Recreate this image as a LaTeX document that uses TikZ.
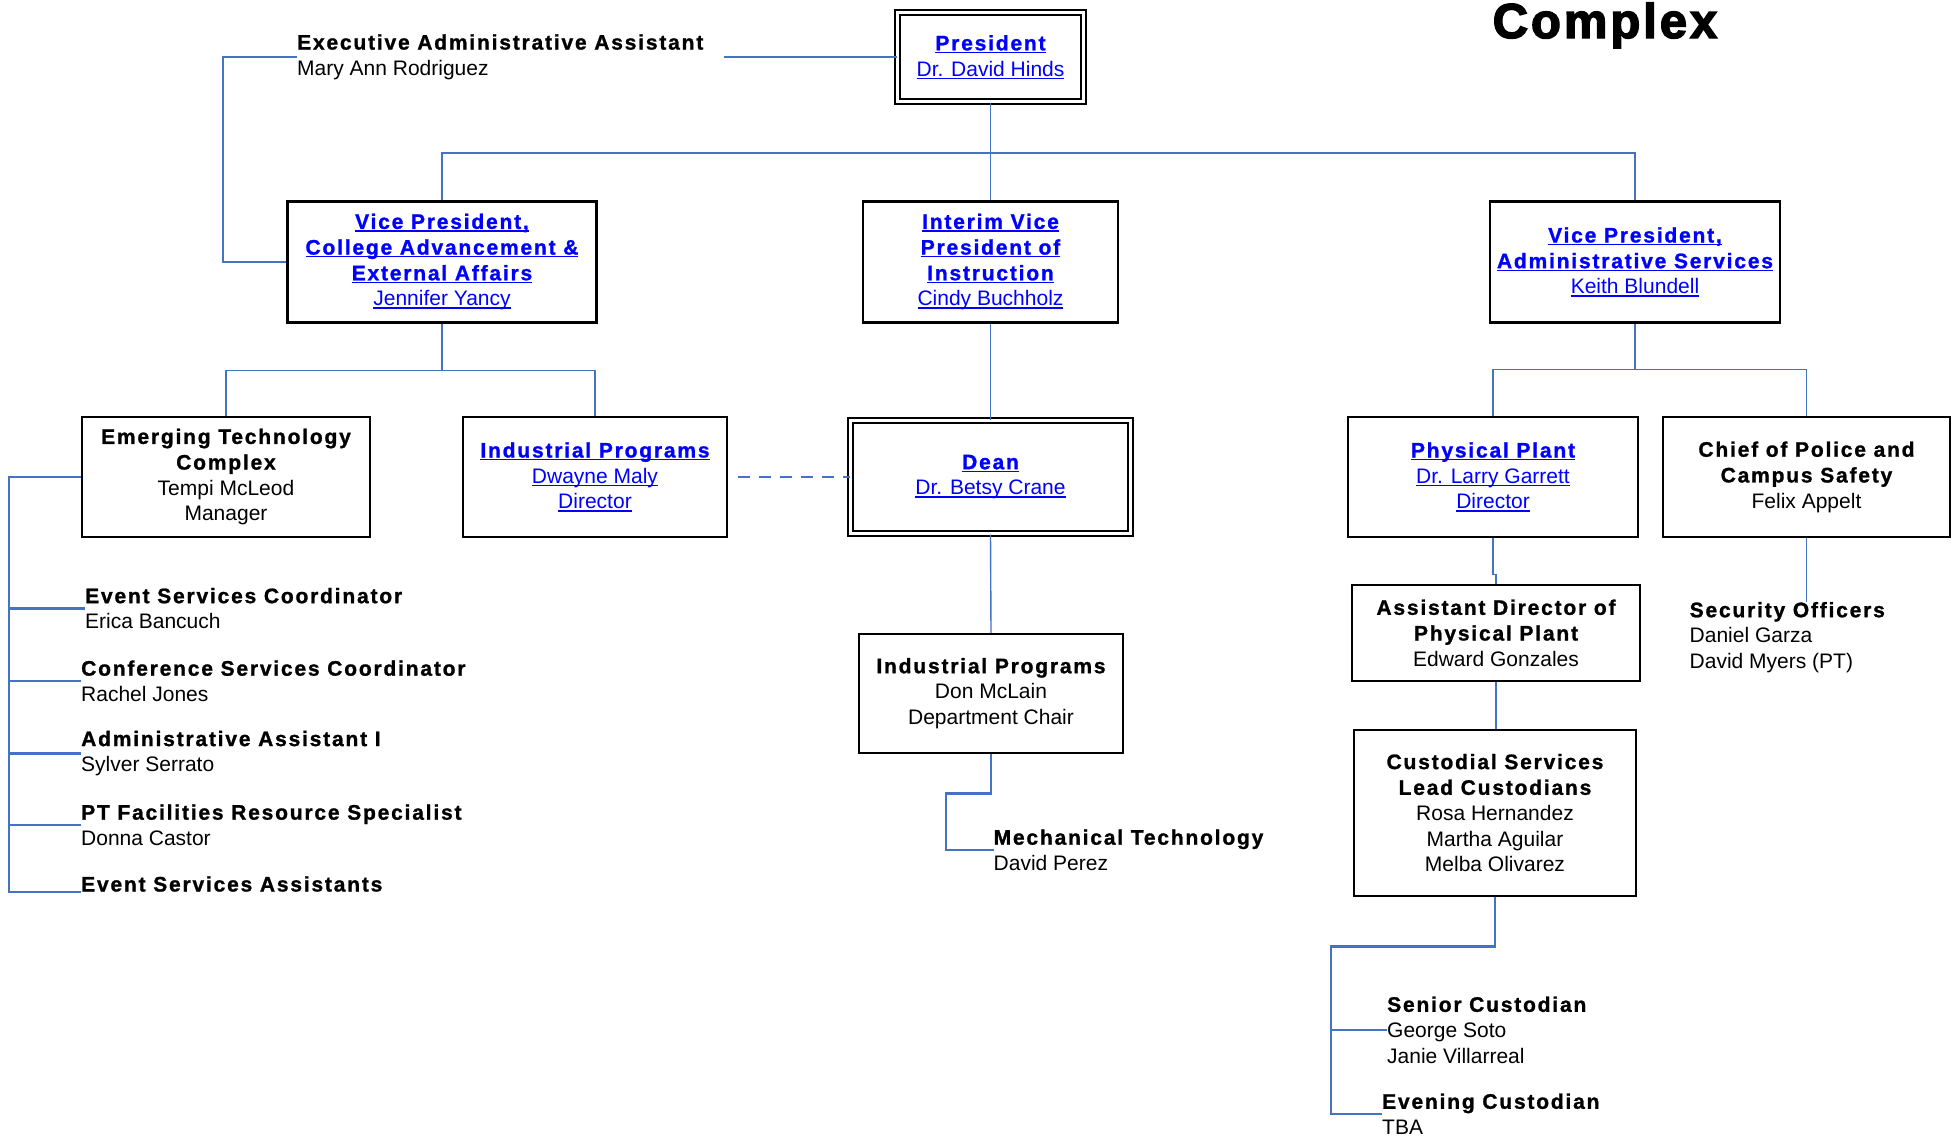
\documentclass[tikz,border=0pt]{standalone}
\usepackage{fontspec}
\setmainfont{Liberation Sans}
\newfontfamily\boldfam[LetterSpace=8.6,FakeBold=1.2]{Liberation Sans}
\newfontfamily\heavyfam[LetterSpace=6,FakeBold=3]{Liberation Sans}
\usepackage{tikz}
\usetikzlibrary{positioning}
\definecolor{linkblue}{RGB}{0,0,255}
\definecolor{wireblue}{RGB}{68,114,196}
\newcommand{\ttl}[1]{{\boldfam\bfseries #1}}
\newsavebox{\lnkbox}
\newcommand{\lnk}[1]{\sbox{\lnkbox}{#1}\rlap{\rule[-2.8pt]{\wd\lnkbox}{1.3pt}}\usebox{\lnkbox}}

\begin{document}
\begin{tikzpicture}[x=1pt, y=-1pt,
        every node/.style={font=\fontsize{21}{25.7}\selectfont},
        box/.style={draw, line width=2.4pt, align=center, inner sep=0pt},
        dbox/.style={draw, double, line width=2pt, double distance=2.6pt, align=center, inner sep=0pt},
        link/.style={text=linkblue},
        entry/.style={anchor=west, align=left, inner sep=0pt},
        wire/.style={wireblue, line width=1.4pt},
        fat/.style={wireblue, line width=2.6pt}]

        \useasboundingbox (0,0) rectangle (1952,1136);

        % title, cut at the top
        \node[anchor=base, font=\fontsize{49}{55}\selectfont] (cplx) at (1605,38) {{\heavyfam\bfseries Complex}};

        % boxes
        \node[dbox, link, minimum width=186pt, minimum height=89pt] (pres) at (990.5,57) {\lnk{\ttl{President}}\\\lnk{Dr. David Hinds}};
        \node[entry] (exec) at (297,57) {\ttl{Executive Administrative Assistant}\\Mary Ann Rodriguez};

        \node[box, link, minimum width=309pt, minimum height=121pt] (vpca) at (442,262) {\lnk{\ttl{Vice President,}}\\\lnk{\ttl{College Advancement \&}}\\\lnk{\ttl{External Affairs}}\\\lnk{Jennifer Yancy}};
        \node[box, link, minimum width=255pt, minimum height=121pt] (vpi) at (990.5,262) {\lnk{\ttl{Interim Vice}}\\\lnk{\ttl{President of}}\\\lnk{\ttl{Instruction}}\\\lnk{Cindy Buchholz}};
        \node[box, link, minimum width=290pt, minimum height=121pt] (vpas) at (1635,262) {\lnk{\ttl{Vice President,}}\\\lnk{\ttl{Administrative Services}}\\\lnk{Keith Blundell}};

        \node[box, minimum width=288pt, minimum height=120pt] (emt) at (226,477) {\ttl{Emerging Technology}\\\ttl{Complex}\\Tempi McLeod\\Manager};
        \node[box, link, minimum width=264pt, minimum height=120pt] (indp) at (595,477) {\lnk{\ttl{Industrial Programs}}\\\lnk{Dwayne Maly}\\\lnk{Director}};
        \node[dbox, link, minimum width=280pt, minimum height=113pt] (dean) at (990.5,477) {\lnk{\ttl{Dean}}\\\lnk{Dr. Betsy Crane}};
        \node[box, link, minimum width=290pt, minimum height=120pt] (pp) at (1493,477) {\lnk{\ttl{Physical Plant}}\\\lnk{Dr. Larry Garrett}\\\lnk{Director}};
        \node[box, minimum width=287pt, minimum height=120pt] (chief) at (1806.5,477) {\ttl{Chief of Police and}\\\ttl{Campus Safety}\\Felix Appelt};

        \node[box, minimum width=264pt, minimum height=119pt] (indc) at (991,693.5) {\ttl{Industrial Programs}\\Don McLain\\Department Chair};
        \node[box, minimum width=288pt, minimum height=96pt] (adpp) at (1496,633) {\ttl{Assistant Director of}\\\ttl{Physical Plant}\\Edward Gonzales};
        \node[box, minimum width=282pt, minimum height=166pt] (cust) at (1495,813) {\ttl{Custodial Services}\\\ttl{Lead Custodians}\\Rosa Hernandez\\Martha Aguilar\\Melba Olivarez};

        % staff without boxes
        \node[entry] (esc) at (85,608.5) {\ttl{Event Services Coordinator}\\Erica Bancuch};
        \node[entry] (csc) at (81,681) {\ttl{Conference Services Coordinator}\\Rachel Jones};
        \node[entry] (aa) at (81,753.5) {\ttl{Administrative Assistant I}\\Sylver Serrato};
        \node[entry] (ptf) at (81,825) {\ttl{PT Facilities Resource Specialist}\\Donna Castor};
        \node[entry] (esa) at (81,884) {\ttl{Event Services Assistants}};
        \node[entry] (mech) at (993.5,850) {\ttl{Mechanical Technology}\\David Perez};
        \node[entry] (sec) at (1689.5,637.5) {\ttl{Security Officers}\\Daniel Garza\\David Myers (PT)};
        \node[entry] (senc) at (1387,1030) {\ttl{Senior Custodian}\\George Soto\\Janie Villarreal};
        \node[entry] (evec) at (1382,1114) {\ttl{Evening Custodian}\\TBA};

        % lines
        \draw[fat, shorten <=20pt] (exec.east) -- (pres.west);
        \draw[fat] (exec.west) -- ++(-74,0) |- (vpca.west);
        \draw[wire] (pres.south) -- (vpi.north);
        \draw[wire] (vpca.north) |- ++(548.5,-47.5) -| (vpas.north);
        \draw[wire] (vpca.south) -- ++(0,47) -| (emt.north);
        \draw[wire] (vpca.south) -- ++(0,47) -| (indp.north);
        \draw[wire] (vpas.south) -- ++(0,45.5) -| (pp.north);
        \draw[wire] (vpas.south) -- ++(0,45.5) -| (chief.north);
        \draw[wire] (vpi.south) -- (dean.north);
        \draw[wire] (dean.south) -- (indc.north);
        \draw[wireblue, line width=2pt, dash pattern=on 12pt off 9pt, shorten <=10pt] (indp.east) -- (dean.west);

        \foreach \e in {esc,csc,aa,ptf}
            \draw[fat] (emt.west) -- ++(-72,0) |- (\e.west);
        \draw[fat] (emt.west) -- ++(-72,0) |- (esa.south west);

        \draw[fat] (indc.south) |- ++(-45,39) |- (mech.west);

        \draw[wire] (pp.south) -- ++(0,36) -| (adpp.north);
        \draw[wire] (adpp.south) -- (adpp.south |- cust.north);
        \draw[fat] (cust.south) |- ++(-164,49) |- (senc.west);
        \draw[fat] (cust.south) |- ++(-164,49) |- (evec.west);
        \draw[wire] (chief.south) -- (chief.south |- sec.north);
    \end{tikzpicture}
\end{document}
